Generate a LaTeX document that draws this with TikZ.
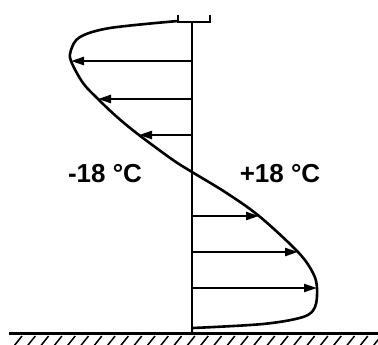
\documentclass[tikz,border=0pt]{standalone}
\usepackage{fontspec}
\setmainfont{Liberation Sans}
\usetikzlibrary{arrows.meta}

\begin{document}
\begin{tikzpicture}[
		x=1pt, y=-1pt,
		profile/.style={line width=2.6pt, line cap=round, line join=round},
		axis/.style={line width=2.8pt},
		arrow/.style={-{Triangle[length=13pt,width=8pt]}, line width=2.4pt},
		label/.style={font=\bfseries\fontsize{26}{30}\selectfont, inner sep=0pt}
		]
		
		\useasboundingbox (0,0) rectangle (378,345);
		
		\coordinate (top) at (192,22);
		\coordinate (foot) at (192,333);
		\coordinate (a1) at (192,61);
		\coordinate (a2) at (192,99);
		\coordinate (a3) at (192,135);
		\coordinate (a4) at (192,216);
		\coordinate (a5) at (192,252);
		\coordinate (a6) at (192,288);
		\coordinate (c1) at (71,61);
		\coordinate (c2) at (98,99);
		\coordinate (c3) at (139,135);
		\coordinate (c4) at (259,216);
		\coordinate (c5) at (298,252);
		\coordinate (c6) at (317,288);
		
		\draw[line width=1.6pt] (178,15) -- (178,22) -- (210,22) -- (210,15);
		\draw[axis] (top) -- (foot);
		\draw[line width=3pt] (9,333) -- (378,333);
		\begin{scope}
			\clip (0,334) rectangle (378,345);
			\foreach \i in {0,...,27}
			\draw[line width=1.5pt] (14+13.3*\i,346) -- (22+13.3*\i,336);
		\end{scope}
		
		\draw[profile] plot[smooth, tension=0.55] coordinates {
			(178,21) (110,28) (80,37) (71,50) (c1) (83,83) (c2) (117,117) (c3)
			(173,160) (192,172) (225,192) (c4) (c5) (313,273) (c6)
			(315,307) (303,317) (263,324) (193,328)};
		
		\draw[arrow] (a1) -- (c1);
		\draw[arrow] (a2) -- (c2);
		\draw[arrow] (a3) -- (c3);
		\draw[arrow] (a4) -- (c4);
		\draw[arrow] (a5) -- (c5);
		\draw[arrow] (a6) -- (c6);
		
		\node[label] (cold) at (105,174) {-18 °C};
		\node[label] (warm) at (280,174) {+18 °C};
		
	\end{tikzpicture}
\end{document}
